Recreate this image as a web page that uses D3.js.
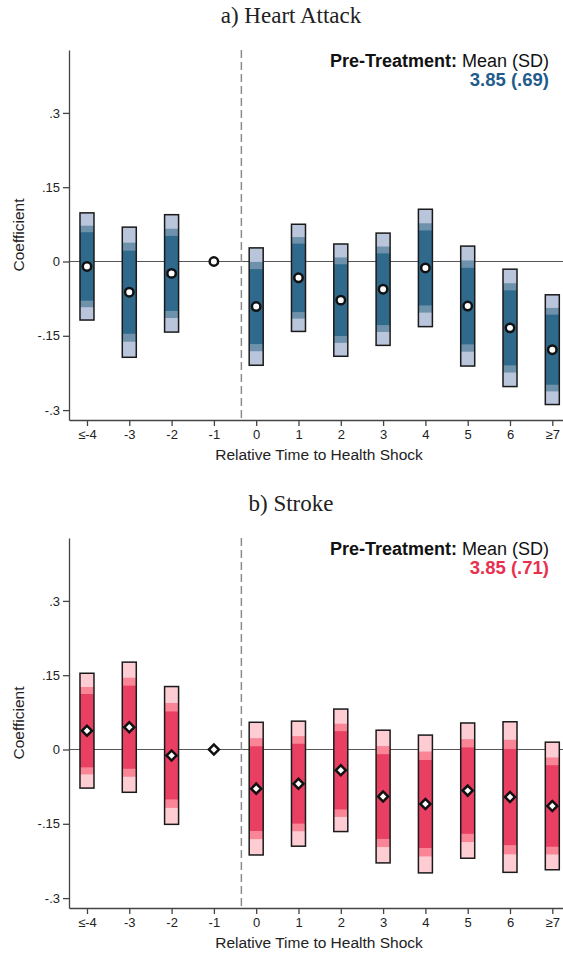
<!DOCTYPE html>
<html>
<head>
<meta charset="utf-8">
<script src="https://cdn.jsdelivr.net/npm/d3@7"></script>
<style>
    body { margin: 0; background: #fff; }
    svg { display: block; font-family: "Liberation Sans", Arial, sans-serif; }
</style>
</head>
<body>
<svg id="chart" width="563" height="953"></svg>
<script>
// event-study coefficients

const TIME_LABELS = ['≤-4', '-3', '-2', '-1', '0', '1', '2', '3', '4', '5', '6', '≥7'];

// a) heart attack
const HEART_COEF = [-0.010, -0.062, -0.024, 0, -0.091, -0.033, -0.078, -0.056, -0.013, -0.090, -0.134, -0.178];
const HEART_SE   = [0.042, 0.051, 0.046, null, 0.046, 0.042, 0.044, 0.044, 0.046, 0.047, 0.046, 0.043];

// b) stroke
const STROKE_COEF = [0.038, 0.045, -0.012, 0, -0.079, -0.069, -0.042, -0.095, -0.110, -0.083, -0.096, -0.114];
const STROKE_SE   = [0.045, 0.051, 0.054, null, 0.052, 0.049, 0.048, 0.052, 0.054, 0.053, 0.059, 0.050];

const Y_TICKS = [-0.3, -0.15, 0, 0.15, 0.3];
const Y_TICK_LABELS = ['-.3', '-.15', '0', '.15', '.3'];

// 99 / 95 / 90 percent critical values, outer band first
const Z_VALUES = [2.576, 1.96, 1.645];

// treatment starts between -1 and 0
const EVENT_LINE = 3.65;

var svg = d3.select('#chart');

drawPanel({
    top: 0,
    title: 'a) Heart Attack',
    coef: HEART_COEF,
    se: HEART_SE,
    colors: ['#b9c5da', '#6e91ac', '#2f6a8d'],
    accent: '#1f5c8b',
    legendValue: '3.85 (.69)',
    marker: 'circle'
});

drawPanel({
    top: 488,
    title: 'b) Stroke',
    coef: STROKE_COEF,
    se: STROKE_SE,
    colors: ['#fecdd3', '#f98596', '#e93f63'],
    accent: '#e8304f',
    legendValue: '3.85 (.71)',
    marker: 'diamond'
});

function drawPanel(p) {
    var g = svg.append('g').attr('transform', 'translate(0,' + p.top + ')');

    var xScale = d3.scaleLinear().domain([-0.425, 11.3]).range([69, 565]);
    var yScale = d3.scaleLinear().domain([-0.32, 0.427]).range([420, 50]);

    // title
    g.append('text')
        .attr('x', 291)
        .attr('y', 23)
        .attr('text-anchor', 'middle')
        .style('font-family', '"Liberation Serif", "Times New Roman", serif')
        .style('font-size', '23px')
        .attr('fill', '#222')
        .text(p.title);

    // zero line sits behind the bars
    g.append('line')
        .attr('x1', xScale.range()[0])
        .attr('x2', xScale.range()[1])
        .attr('y1', yScale(0))
        .attr('y2', yScale(0))
        .attr('stroke', '#555')
        .attr('stroke-width', 1);

    // dashed treatment line
    g.append('line')
        .attr('x1', xScale(EVENT_LINE))
        .attr('x2', xScale(EVENT_LINE))
        .attr('y1', yScale.range()[1])
        .attr('y2', yScale.range()[0])
        .attr('stroke', '#8c8c8c')
        .attr('stroke-width', 1.5)
        .attr('stroke-dasharray', '8,4');

    // axes
    var yAxis = g.append('g')
        .attr('transform', 'translate(' + xScale.range()[0] + ',0)')
        .call(d3.axisLeft(yScale)
            .tickValues(Y_TICKS)
            .tickFormat(function(d, i) { return Y_TICK_LABELS[i]; })
            .tickSize(6)
            .tickSizeOuter(0)
            .tickPadding(3));

    var xAxis = g.append('g')
        .attr('transform', 'translate(0,' + yScale.range()[0] + ')')
        .call(d3.axisBottom(xScale)
            .tickValues(TIME_LABELS.map(function(d, i) { return i; }))
            .tickFormat(function(i) { return TIME_LABELS[i]; })
            .tickSize(6)
            .tickSizeOuter(0)
            .tickPadding(4));

    [yAxis, xAxis].forEach(function(axis) {
        axis.selectAll('path, line').attr('stroke', '#444').attr('stroke-width', 1.3);
        axis.selectAll('text')
            .attr('fill', '#222')
            .style('font-family', '"Liberation Sans", Arial, sans-serif')
            .style('font-size', '13px');
    });

    // axis titles
    g.append('text')
        .attr('transform', 'translate(24,' + ((yScale.range()[0] + yScale.range()[1]) / 2) + ') rotate(-90)')
        .attr('text-anchor', 'middle')
        .style('font-size', '15.5px')
        .attr('fill', '#222')
        .text('Coefficient');

    g.append('text')
        .attr('x', 319)
        .attr('y', yScale.range()[0] + 40)
        .attr('text-anchor', 'middle')
        .style('font-size', '15.5px')
        .attr('fill', '#222')
        .text('Relative Time to Health Shock');

    // legend note
    var note = g.append('text')
        .attr('x', 549)
        .attr('y', 67)
        .attr('text-anchor', 'end')
        .style('font-size', '18px')
        .attr('fill', '#111');
    note.append('tspan').style('font-weight', 'bold').text('Pre-Treatment:');
    note.append('tspan').text(' Mean (SD)');

    g.append('text')
        .attr('x', 549)
        .attr('y', 86)
        .attr('text-anchor', 'end')
        .style('font-size', '18.5px')
        .style('font-weight', 'bold')
        .attr('fill', p.accent)
        .text(p.legendValue);

    // confidence bands: 99, 95, 90
    var barWidth = 14;
    var rows = p.coef.map(function(c, i) { return { i: i, coef: c, se: p.se[i] }; });
    var withCI = rows.filter(function(d) { return d.se !== null; });

    Z_VALUES.forEach(function(z, k) {
        g.append('g').selectAll('rect')
            .data(withCI)
            .join('rect')
            .attr('x', function(d) { return xScale(d.i) - barWidth / 2; })
            .attr('width', barWidth)
            .attr('y', function(d) { return yScale(d.coef + z * d.se); })
            .attr('height', function(d) { return yScale(d.coef - z * d.se) - yScale(d.coef + z * d.se); })
            .attr('fill', p.colors[k]);
    });

    // outline of the widest band
    g.append('g').selectAll('rect')
        .data(withCI)
        .join('rect')
        .attr('x', function(d) { return xScale(d.i) - barWidth / 2; })
        .attr('width', barWidth)
        .attr('y', function(d) { return yScale(d.coef + Z_VALUES[0] * d.se); })
        .attr('height', function(d) { return yScale(d.coef - Z_VALUES[0] * d.se) - yScale(d.coef + Z_VALUES[0] * d.se); })
        .attr('fill', 'none')
        .attr('stroke', '#1a1a1a')
        .attr('stroke-width', 1.5);

    // point estimates
    var symbol = d3.symbol()
        .type(p.marker === 'circle' ? d3.symbolCircle : d3.symbolSquare)
        .size(p.marker === 'circle' ? 56 : 50);

    g.append('g').selectAll('path')
        .data(rows)
        .join('path')
        .attr('transform', function(d) {
            return 'translate(' + xScale(d.i) + ',' + yScale(d.coef) + ')' + (p.marker === 'diamond' ? ' rotate(45)' : '');
        })
        .attr('d', symbol)
        .attr('fill', '#fff')
        .attr('stroke', '#111')
        .attr('stroke-width', 2.5);
}
</script>
</body>
</html>
